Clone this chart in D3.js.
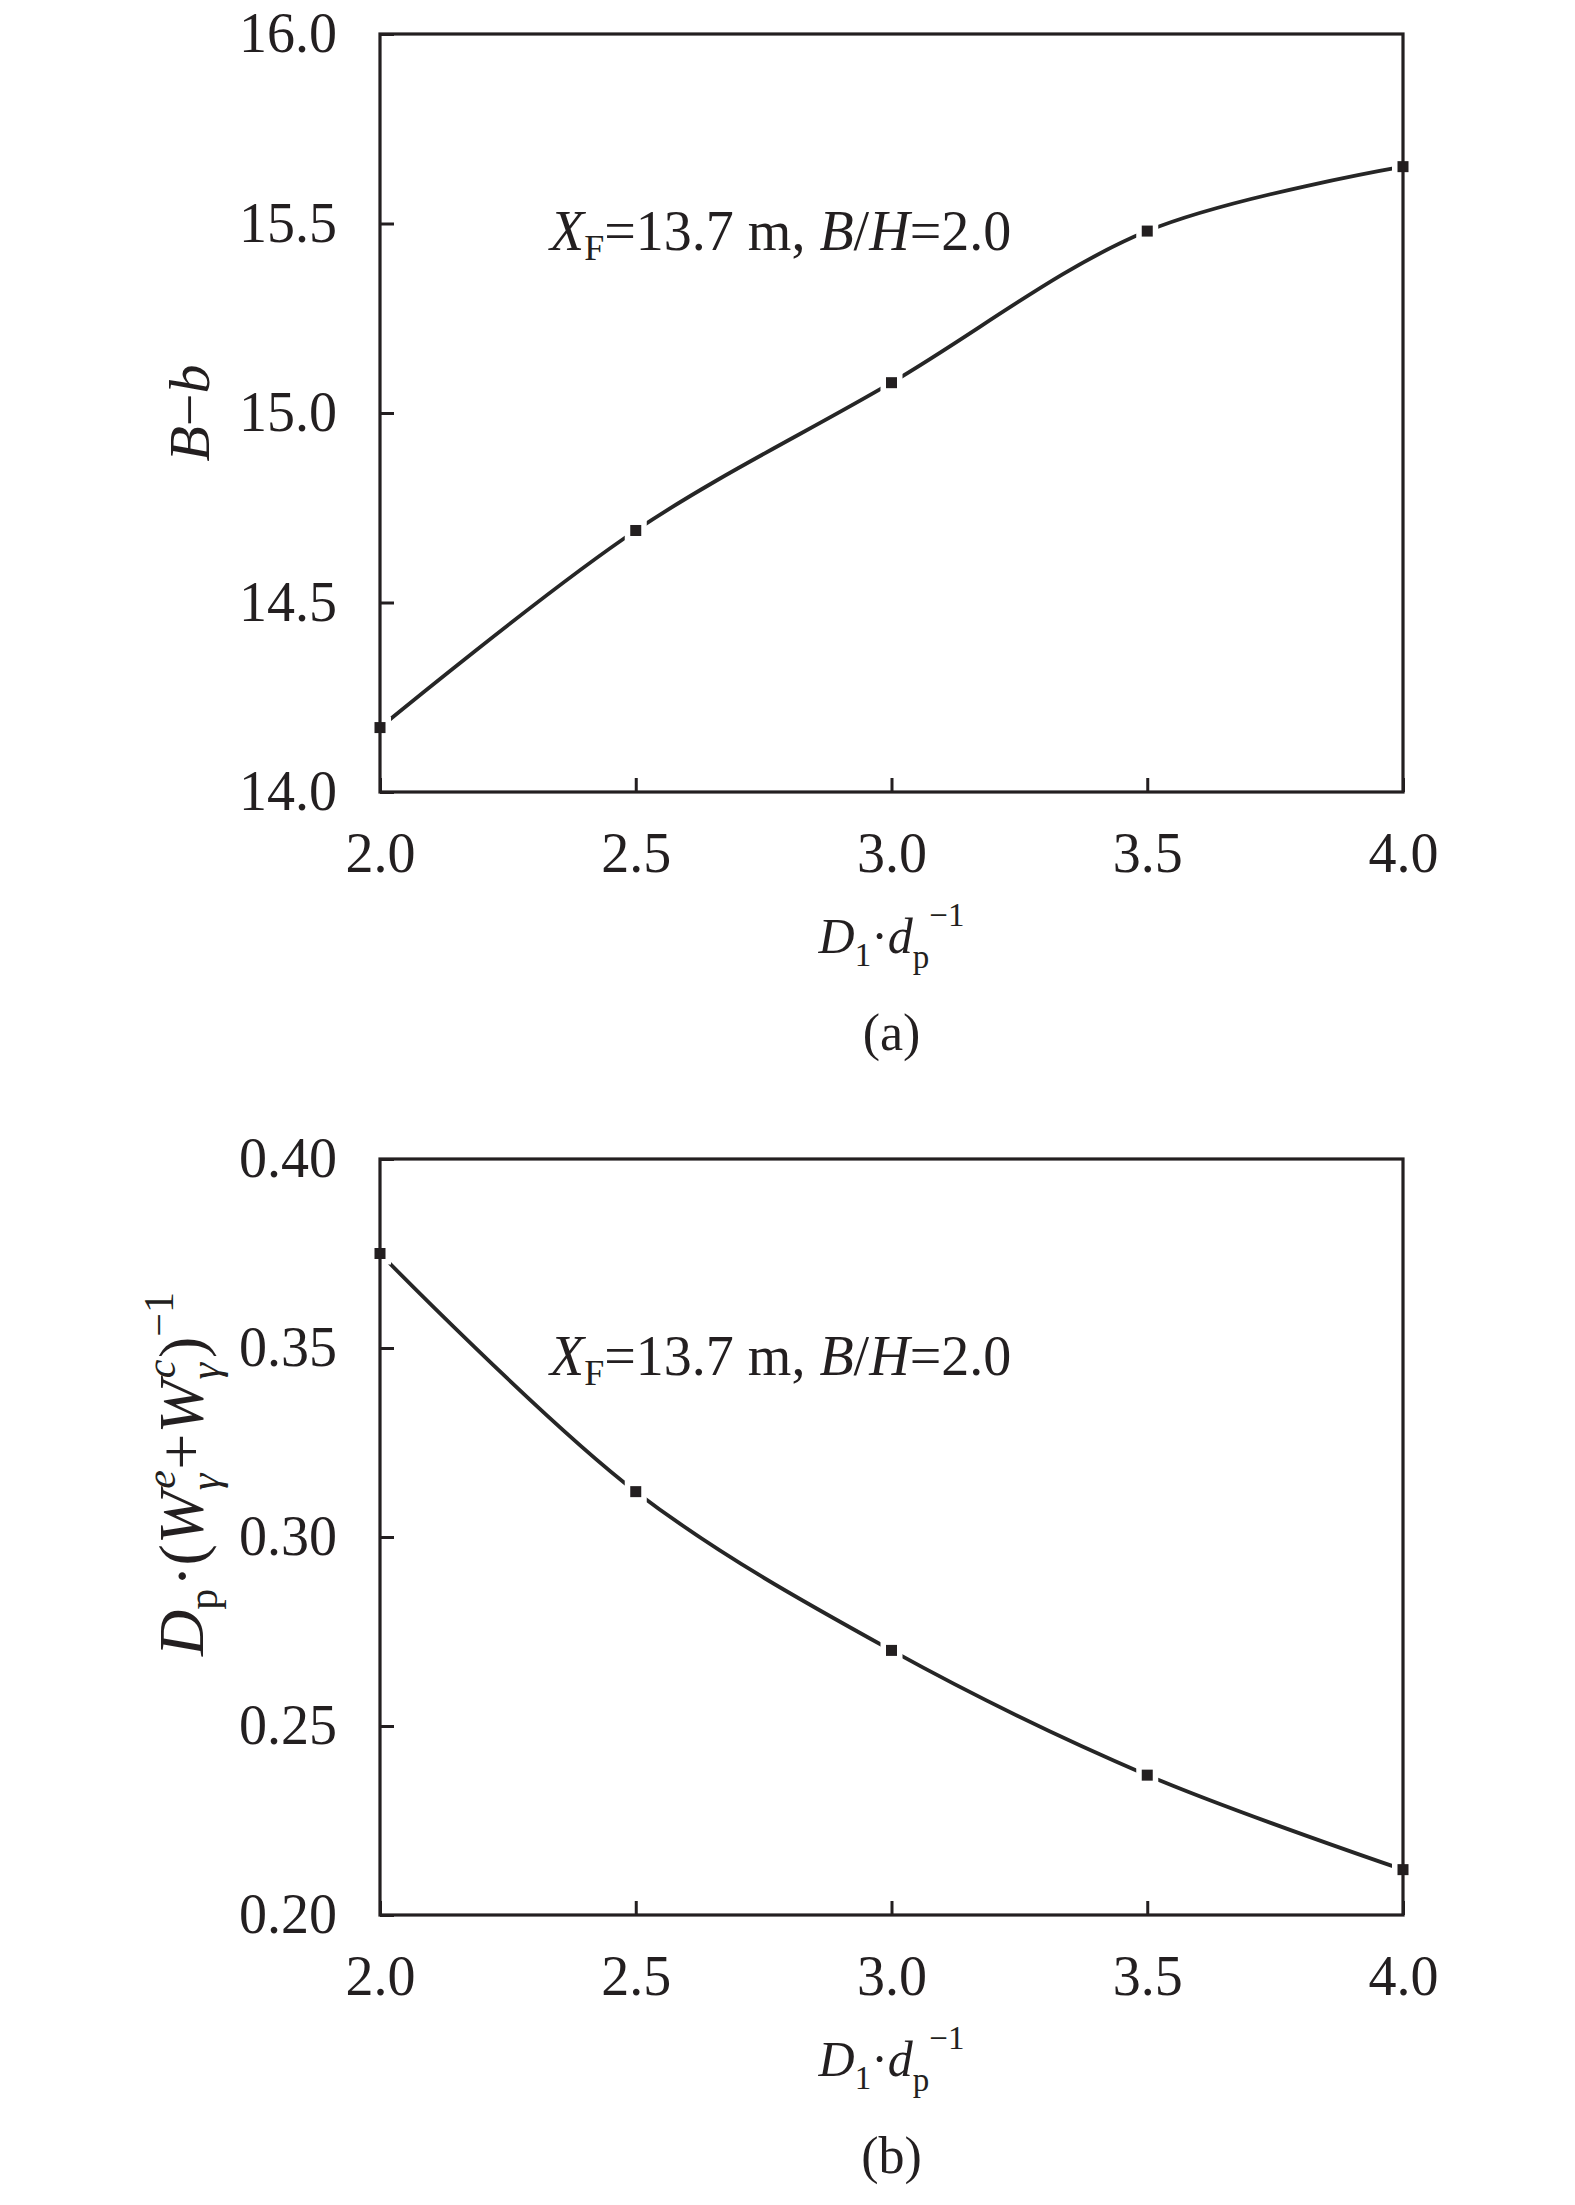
<!DOCTYPE html>
<html>
<head>
<meta charset="utf-8">
<script src="https://cdn.jsdelivr.net/npm/d3@7/dist/d3.min.js"></script>
<style>
  html, body { margin: 0; padding: 0; background: #fff; }
  svg { display: block; }
  text { font-family: "Liberation Serif", "Times New Roman", serif; fill: #231f20; }
</style>
</head>
<body>
<svg id="chart" width="1575" height="2205"></svg>
<script>
// ---- data ----
const ratio = [2.0, 2.5, 3.0, 3.5, 4.0];           // D1·dp^-1
const valuesA = [14.17, 14.69, 15.08, 15.48, 15.65]; // B−b
const valuesB = [0.375, 0.312, 0.270, 0.237, 0.212]; // Dp·(We+Wc)^-1
const xTickLabels = [2.0, 2.5, 3.0, 3.5, 4.0];
const yTicksA = [14.0, 14.5, 15.0, 15.5, 16.0];
const yTicksB = [0.20, 0.25, 0.30, 0.35, 0.40];
const annotation = "=13.7 m, ";

const svg = d3.select("#chart");
const INK = "#231f20";
const left = 380, right = 1403;

function panel(opts) {
  const g = svg.append("g");
  const x = d3.scaleLinear().domain([2.0, 4.0]).range([left, right]);
  const y = d3.scaleLinear().domain(opts.yDomain).range([opts.bottom, opts.top]);

  // curve
  const pts = ratio.map((r, i) => [r, opts.values[i]]);
  const line = d3.line().x(d => x(d[0])).y(d => y(d[1])).curve(d3.curveCatmullRom.alpha(0.5));
  g.append("path").attr("d", line(pts)).attr("fill", "none")
    .attr("stroke", "#262626").attr("stroke-width", 3.8);

  // marker halos (gaps in line) and markers
  g.selectAll("rect.halo").data(pts).join("rect").attr("class", "halo")
    .attr("x", d => x(d[0]) - 11).attr("y", d => y(d[1]) - 11)
    .attr("width", 22).attr("height", 22).attr("fill", "#fff");
  g.selectAll("rect.mk").data(pts).join("rect").attr("class", "mk")
    .attr("x", d => x(d[0]) - 5.5).attr("y", d => y(d[1]) - 5.5)
    .attr("width", 11).attr("height", 11).attr("fill", INK);

  // axes
  const xa = g.append("g").attr("transform", `translate(0,${opts.bottom})`)
    .call(d3.axisBottom(x).tickValues(xTickLabels).tickFormat(d3.format(".1f"))
      .tickSize(-14).tickSizeOuter(0).tickPadding(40));
  const ya = g.append("g").attr("transform", `translate(${left},0)`)
    .call(d3.axisLeft(y).tickValues(opts.yTicks).tickFormat(d3.format(opts.fmt))
      .tickSize(-14).tickSizeOuter(0).tickPadding(43));
  [xa, ya].forEach(a => {
    a.attr("font-family", null);
    a.select(".domain").remove();
    a.selectAll(".tick line").attr("stroke", INK).attr("stroke-width", 3);
    a.selectAll(".tick text").attr("font-size", 56).attr("fill", INK)
      .style("font-family", '"Liberation Serif", "Times New Roman", serif');
  });

  // frame
  g.append("rect").attr("x", left).attr("y", opts.top)
    .attr("width", right - left).attr("height", opts.bottom - opts.top)
    .attr("fill", "none").attr("stroke", INK).attr("stroke-width", 3.2);

  // annotation
  const an = g.append("text").attr("x", 550).attr("y", opts.top + 216).attr("font-size", 56);
  an.append("tspan").attr("font-style", "italic").text("X");
  an.append("tspan").attr("font-size", 36).attr("dy", 10).text("F");
  an.append("tspan").attr("dy", -10).text(annotation);
  an.append("tspan").attr("font-style", "italic").text("B");
  an.append("tspan").text("/");
  an.append("tspan").attr("font-style", "italic").text("H");
  an.append("tspan").text("=2.0");

  // x title
  const cx = (left + right) / 2;
  const xt = g.append("text").attr("x", cx).attr("y", opts.bottom + 161)
    .attr("text-anchor", "middle").attr("font-size", 50);
  xt.append("tspan").attr("font-style", "italic").text("D");
  xt.append("tspan").attr("font-size", 33).attr("dy", 13).text("1");
  xt.append("tspan").attr("dy", -13).text("·");
  xt.append("tspan").attr("font-style", "italic").text("d");
  xt.append("tspan").attr("font-size", 33).attr("dy", 15).text("p");
  xt.append("tspan").attr("font-size", 33).attr("dy", -42).text("\u22121");

  // panel label
  g.append("text").attr("x", cx).attr("y", opts.bottom + 258)
    .attr("text-anchor", "middle").attr("font-size", 52).text(opts.label);

  opts.yTitle(g);
}

panel({
  top: 34, bottom: 792, yDomain: [14.0, 16.0], yTicks: yTicksA, fmt: ".1f",
  values: valuesA, label: "(a)",
  yTitle: g => {
    const t = g.append("text").attr("transform", "translate(209,413) rotate(-90)")
      .attr("text-anchor", "middle").attr("font-size", 58);
    t.append("tspan").attr("font-style", "italic").text("B");
    t.append("tspan").text("\u2212");
    t.append("tspan").attr("font-style", "italic").text("b");
  }
});

panel({
  top: 1159, bottom: 1915, yDomain: [0.20, 0.40], yTicks: yTicksB, fmt: ".2f",
  values: valuesB, label: "(b)",
  yTitle: g => {
    const t = g.append("text").attr("transform", "translate(203,1474) rotate(-90)")
      .attr("text-anchor", "middle").attr("font-size", 64);
    t.append("tspan").attr("font-style", "italic").text("D");
    t.append("tspan").attr("font-size", 42).attr("dy", 14).text("p");
    t.append("tspan").attr("dy", -14).attr("dx", 2).text("·(");
    t.append("tspan").attr("font-style", "italic").text("W");
    t.append("tspan").attr("font-style", "italic").attr("font-size", 42).attr("dy", -28).attr("dx", 2).text("e");
    t.append("tspan").attr("font-style", "italic").attr("font-size", 42).attr("dx", -20).attr("dy", 44).text("γ");
    t.append("tspan").attr("dy", -16).attr("dx", 4).text("+");
    t.append("tspan").attr("font-style", "italic").text("W");
    t.append("tspan").attr("font-style", "italic").attr("font-size", 42).attr("dy", -28).attr("dx", 2).text("c");
    t.append("tspan").attr("font-style", "italic").attr("font-size", 42).attr("dx", -20).attr("dy", 44).text("γ");
    t.append("tspan").attr("dy", -16).attr("dx", 5).text(")");
    t.append("tspan").attr("font-size", 42).attr("dy", -30).text("\u22121");
  }
});
</script>
</body>
</html>
